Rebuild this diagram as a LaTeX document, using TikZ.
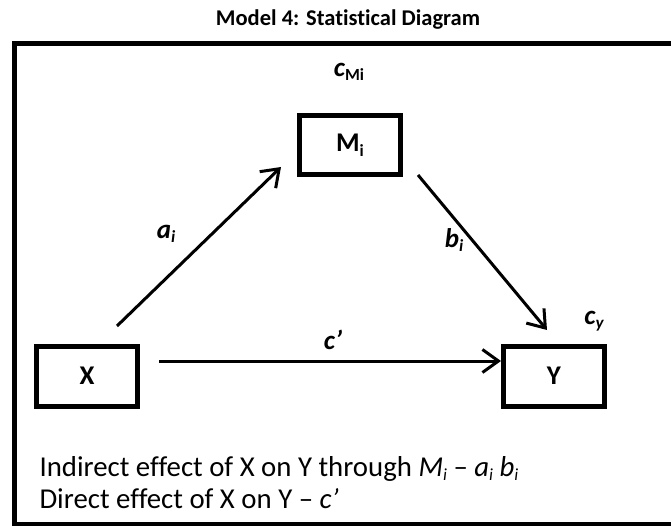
\documentclass[tikz,border=0pt]{standalone}
\usepackage{fontspec}
\setmainfont{Carlito}[Ligatures={NoCommon}]
\usetikzlibrary{arrows.meta}

% lowered index, as the picture sets it
\newcommand{\lowidx}[1]{\raisebox{-0.35ex}{\fontsize{17}{17}\selectfont #1}}

\tikzset{
  var/.style={draw, line width=5pt, minimum width=101pt, minimum height=60pt,
    font=\fontsize{27}{30}\selectfont\bfseries},
  path arrow/.style={line width=3pt, -{Straight Barb[length=16pt, width=23pt]}},
  coef/.style={font=\fontsize{27}{30}\selectfont\bfseries\itshape},
  note/.style={anchor=base west, font=\fontsize{28.8}{32}\selectfont},
}

\begin{document}
\begin{tikzpicture}[x=1pt, y=-1pt]

        \useasboundingbox (0,0) rectangle (671,526);

        % Title above the frame
        \node[font=\fontsize{22.5}{26}\selectfont\bfseries] (title) at (348,20)
          {Model 4: Statistical Diagram};

        % Outer frame, runs past the right edge
        \draw[line width=5pt] (680,44) -- (14.5,44) -- (14.5,524) -- (680,524);

        % The three variables
        \node[var] (X) at (87,376) {X};
        \node[var] (Y) at (554,376) {Y};
        \node[var, minimum height=59pt] (M) at (350,145) {M\lowidx{i}};

        % Free ends of the paths
        \coordinate (aStart) at (117,326);
        \coordinate (aEnd) at (281,167);
        \coordinate (bStart) at (418,175);
        \coordinate (bEnd) at (547,330);
        \coordinate (cStart) at (159,361);

        % Paths between the variables
        \draw[path arrow] (aStart) -- (aEnd);
        \draw[path arrow] (bStart) -- (bEnd);
        \draw[path arrow] (cStart) -- ([yshift=15pt]Y.west);

        % Path coefficients
        \node[coef] (a) at (166,234) {a\lowidx{i}};
        \node[coef] (b) at (454,240) {b\lowidx{i}};
        \node[coef] (cp) at (333,340) {c’};
        \node[coef] (cM) at (349,72) {c\lowidx{\upshape Mi}};
        \node[coef] (cy) at (594,321) {c\lowidx{y}};

        % Effects written under the diagram
        \node[note] (ind) at (36,476)
          {Indirect effect of X on Y through \textit{M\lowidx{i}} – \textit{a\lowidx{i} b\lowidx{i}}};
        \node[note] (dir) at (36,508) {Direct effect of X on Y – \textit{c’}};

      \end{tikzpicture}
\end{document}
